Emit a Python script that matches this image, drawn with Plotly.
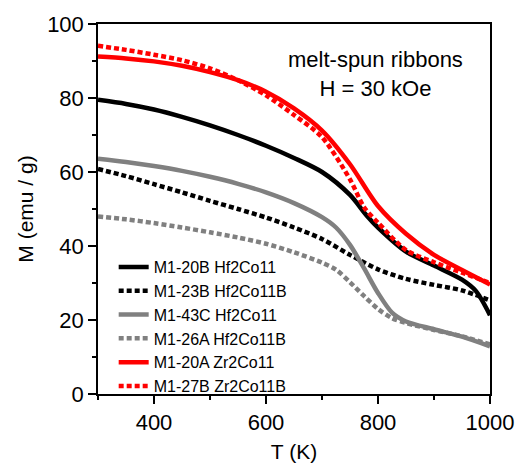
import plotly.graph_objects as go

T_hf20b = [300, 350, 400, 450, 500, 550, 600, 650, 700, 750, 780, 800, 850, 900, 950, 975, 1000]
M_hf20b = [79.5, 78.4, 76.9, 74.9, 72.6, 70.0, 67.1, 63.8, 60.0, 53.8, 48.2, 45.0, 38.5, 34.7, 30.9, 27.8, 21.3]

T_hf23b = [300, 350, 400, 450, 500, 550, 600, 650, 700, 750, 800, 850, 900, 950, 1000]
M_hf23b = [60.8, 58.9, 56.7, 54.5, 52.2, 50.0, 47.7, 45.0, 41.9, 37.6, 33.7, 31.1, 29.5, 28.0, 25.3]

T_hf43c = [300, 350, 400, 450, 500, 550, 600, 650, 700, 725, 750, 775, 800, 825, 850, 900, 950, 1000]
M_hf43c = [63.6, 62.7, 61.6, 60.3, 58.7, 56.8, 54.5, 51.6, 47.8, 45.0, 40.3, 34.0, 27.3, 22.0, 19.6, 17.5, 15.5, 12.9]

T_hf26a = [300, 350, 400, 450, 500, 550, 600, 650, 700, 725, 750, 775, 800, 825, 850, 900, 950, 1000]
M_hf26a = [48.0, 47.2, 46.2, 45.0, 43.7, 42.3, 40.6, 38.3, 35.5, 33.6, 30.2, 26.5, 23.0, 20.5, 19.2, 17.3, 15.6, 13.4]

T_zr20a = [300, 350, 400, 450, 500, 550, 600, 650, 700, 750, 800, 850, 900, 950, 1000]
M_zr20a = [91.2, 90.7, 89.9, 88.7, 87.0, 84.8, 81.7, 77.2, 71.2, 62.1, 50.8, 43.3, 37.6, 33.5, 29.6]

T_zr27b = [300, 350, 400, 450, 500, 550, 600, 650, 700, 750, 775, 800, 850, 900, 950, 1000]
M_zr27b = [94.1, 93.0, 91.7, 90.2, 88.0, 84.8, 80.7, 75.4, 69.4, 58.0, 50.5, 46.3, 38.9, 35.6, 32.8, 30.0]

names = ["M1-20B Hf2Co11", "M1-23B Hf2Co11B", "M1-43C Hf2Co11",
         "M1-26A Hf2Co11B", "M1-20A Zr2Co11", "M1-27B Zr2Co11B"]
series = [(T_hf20b, M_hf20b), (T_hf23b, M_hf23b), (T_hf43c, M_hf43c),
          (T_hf26a, M_hf26a), (T_zr20a, M_zr20a), (T_zr27b, M_zr27b)]
colors = ["#000000", "#000000", "#808080", "#808080", "#ff0000", "#ff0000"]
dashes = ["solid", "5px,3px", "solid", "5px,3px", "solid", "5px,3px"]

FONT = "Liberation Sans, Arial, sans-serif"

fig = go.Figure()
for (t, m), n, c, d in zip(series, names, colors, dashes):
    fig.add_trace(go.Scatter(
        x=t, y=m, name=n, mode="lines",
        line=dict(color=c, width=4.5, dash=d, shape="spline", smoothing=0.8)))

fig.update_layout(
    width=526, height=472,
    margin=dict(l=98, r=36, t=20, b=71),
    plot_bgcolor="white", paper_bgcolor="white",
    font=dict(family=FONT, size=22, color="black"),
    showlegend=True,
    legend=dict(x=0.04, y=0.389, xanchor="left", yanchor="top",
                bgcolor="rgba(0,0,0,0)", borderwidth=0,
                font=dict(family=FONT, size=16, color="black"),
                tracegroupgap=0, itemwidth=30),
    xaxis=dict(range=[300, 1000], tick0=400, dtick=200,
               ticks="outside", ticklen=8, tickwidth=1.5, tickcolor="black",
               showline=True, linewidth=1.5, linecolor="black", mirror=True,
               showgrid=False, zeroline=False,
               minor=dict(ticks="outside", ticklen=4, tickwidth=1.5,
                          tickcolor="black", dtick=100, tick0=300, showgrid=False),
               title=dict(text="T (K)", font=dict(size=21), standoff=10),
               tickfont=dict(size=22)),
    yaxis=dict(range=[0, 100], tick0=0, dtick=20,
               ticks="outside", ticklen=8, tickwidth=1.5, tickcolor="black",
               showline=True, linewidth=1.5, linecolor="black", mirror=True,
               showgrid=False, zeroline=False,
               minor=dict(ticks="outside", ticklen=4, tickwidth=1.5,
                          tickcolor="black", dtick=10, tick0=0, showgrid=False),
               title=dict(text="M (emu / g)", font=dict(size=21), standoff=8),
               tickfont=dict(size=22)),
    xaxis2=dict(range=[300, 1000], overlaying="x", side="top", tick0=400, dtick=200,
                ticks="inside", ticklen=8, tickwidth=1.5, tickcolor="black",
                showticklabels=False, showgrid=False, zeroline=False, showline=False,
                minor=dict(ticks="inside", ticklen=5, tickwidth=1.5,
                           tickcolor="black", dtick=100, tick0=300, showgrid=False)),
    yaxis2=dict(range=[0, 100], overlaying="y", side="right", tick0=0, dtick=20,
                ticks="inside", ticklen=8, tickwidth=1.5, tickcolor="black",
                showticklabels=False, showgrid=False, zeroline=False, showline=False,
                minor=dict(ticks="inside", ticklen=4, tickwidth=1.5,
                           tickcolor="black", dtick=10, tick0=0, showgrid=False)),
    annotations=[dict(text="melt-spun ribbons<br>H = 30 kOe", x=0.709, y=0.865,
                      xref="paper", yref="paper", xanchor="center", yanchor="middle",
                      showarrow=False, font=dict(family=FONT, size=22, color="black"))],
)

fig.write_html("out.html")
